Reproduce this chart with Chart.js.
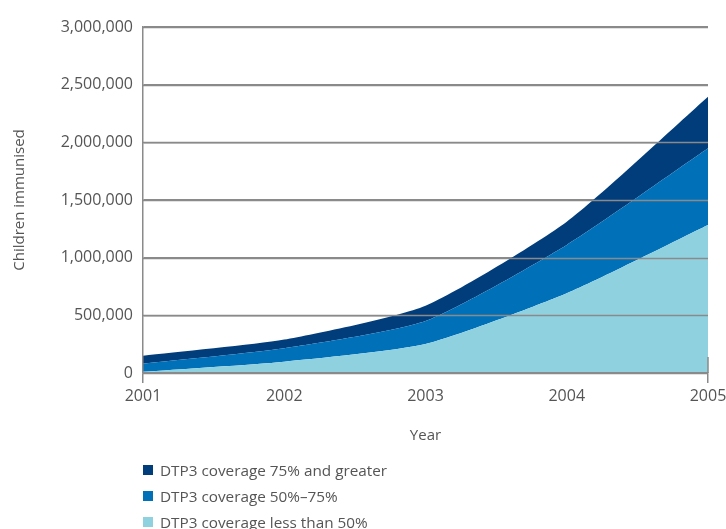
<!DOCTYPE html>
<html>
<head>
<meta charset="utf-8">
<script src="https://cdn.jsdelivr.net/npm/chart.js@4/dist/chart.umd.min.js"></script>
<style>
  html, body { margin: 0; padding: 0; background: #fff; }
  #wrap { position: relative; width: 726px; height: 529px; overflow: hidden; }
  #legend { position: absolute; left: 143px; top: 457px; font-family: "Open Sans", sans-serif; font-size: 15.3px; color: #555; }
  #legend div { display: flex; align-items: center; height: 26px; }
  #legend span.box { display: inline-block; width: 10px; height: 10px; margin-right: 7px; }
</style>
</head>
<body>
<div id="wrap">
  <canvas id="chart" width="726" height="529"></canvas>
  <div id="legend"></div>
</div>
<script>
// años y valores por categoria (no acumulados)
const years = ['2001', '2002', '2003', '2004', '2005'];
const menos50 = [10000, 98000, 251000, 691000, 1283000];
const entre50y75 = [70000, 116000, 199000, 419000, 665000];
const mayor75 = [70000, 76000, 134000, 202000, 448000];

const series = [
  { label: 'DTP3 coverage less than 50%', data: menos50, color: '#90d1df' },
  { label: 'DTP3 coverage 50%\u201375%', data: entre50y75, color: '#0071b9' },
  { label: 'DTP3 coverage 75% and greater', data: mayor75, color: '#023d7b' }
];

const gris = '#8a8a8a';
const texto = '#555';

// lineas de la grilla encima de las areas + marca corta en el ultimo año
const grillaEncima = {
  id: 'grillaEncima',
  afterDatasetsDraw(chart) {
    const { ctx: c, chartArea: a, scales } = chart;
    c.save();
    c.strokeStyle = gris;
    c.lineWidth = 1.5;
    scales.y.ticks.forEach(t => {
      const y = Math.round(scales.y.getPixelForValue(t.value)) + 0.5;
      c.beginPath();
      c.moveTo(a.left, y);
      c.lineTo(a.right, y);
      c.stroke();
    });
    const x = scales.x.getPixelForValue(years.length - 1);
    const y0 = scales.y.getPixelForValue(0);
    c.beginPath();
    c.moveTo(x, y0 - 16);
    c.lineTo(x, y0);
    c.stroke();
    c.restore();
  }
};

const ctx = document.getElementById('chart');
new Chart(ctx, {
  type: 'line',
  data: {
    labels: years,
    datasets: series.map((s, i) => ({
      label: s.label,
      data: s.data,
      backgroundColor: s.color,
      borderColor: s.color,
      borderWidth: 0,
      pointRadius: 0,
      fill: i === 0 ? 'origin' : '-1',
      tension: 0.2
    }))
  },
  plugins: [grillaEncima],
  options: {
    responsive: false,
    animation: false,
    layout: { padding: { left: 0, top: 27, right: 18, bottom: 81 } },
    plugins: { legend: { display: false }, tooltip: { enabled: false } },
    scales: {
      x: {
        offset: false,
        afterFit: s => { s.height = 75; s.paddingRight = 0; s.paddingLeft = 0; },
        grid: {
          drawOnChartArea: false,
          tickLength: 10,
          lineWidth: 1.5,
          color: c => (c.index === 0 || c.index === years.length - 1) ? gris : 'rgba(0,0,0,0)'
        },
        border: { color: gris, width: 1.5, z: 1 },
        ticks: { color: texto, font: { family: 'Open Sans', size: 16 }, padding: 4, maxRotation: 0 },
        title: { display: true, text: 'Year', color: texto, font: { family: 'Open Sans', size: 15 }, padding: { top: 0, bottom: 3 } }
      },
      y: {
        stacked: true,
        min: 0,
        max: 3000000,
        afterFit: s => { s.width = 143; },
        grid: { color: gris, lineWidth: 1.5, drawTicks: false },
        border: { color: gris, width: 1.5, z: 1 },
        ticks: {
          stepSize: 500000,
          color: texto,
          padding: 10,
          font: { family: 'Open Sans', size: 16 },
          callback: v => v.toLocaleString('en-US')
        },
        title: { display: true, text: 'Children immunised', color: texto, font: { family: 'Open Sans', size: 15 }, padding: { top: 11, bottom: 0 } }
      }
    }
  }
});

// leyenda: el orden va de arriba (75%+) hacia abajo
const legend = document.getElementById('legend');
series.slice().reverse().forEach(s => {
  legend.innerHTML += `<div><span class="box" style="background:${s.color}"></span>${s.label}</div>`;
});
</script>
</body>
</html>
